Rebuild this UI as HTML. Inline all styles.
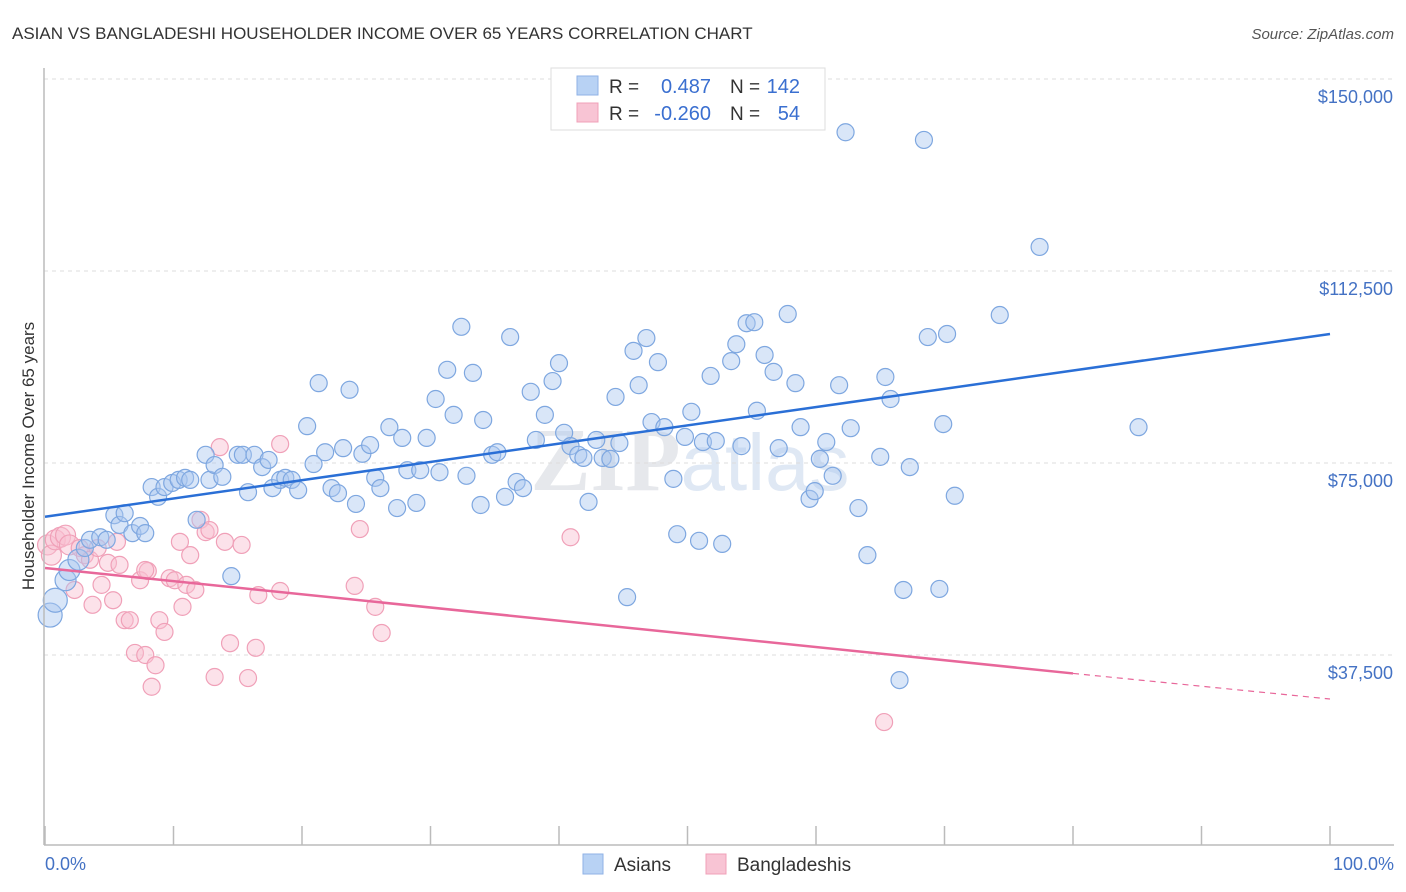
<!DOCTYPE html>
<html><head><meta charset="utf-8">
<style>
body{margin:0;background:#fff;font-family:"Liberation Sans",sans-serif;}
#wrap{position:relative;width:1406px;height:892px;overflow:hidden;}
</style></head>
<body>
<div id="wrap">
<svg id="svg" width="1406" height="892" xmlns="http://www.w3.org/2000/svg">
<text x="12" y="39" font-size="17" fill="#333">ASIAN VS BANGLADESHI HOUSEHOLDER INCOME OVER 65 YEARS CORRELATION CHART</text>
<text x="1394" y="39" font-size="15" fill="#555" font-style="italic" text-anchor="end">Source: ZipAtlas.com</text>
<text x="690" y="490" font-size="90" fill="#e6e8ec" font-weight="bold" text-anchor="middle" font-family="Liberation Serif,serif">ZIP<tspan fill="#dfe8f4" font-family="Liberation Sans,sans-serif" font-weight="normal" font-size="80">atlas</tspan></text>
<text transform="translate(34,456) rotate(-90)" font-size="17" fill="#333" text-anchor="middle">Householder Income Over 65 years</text>
<g id="grid"></g><g id="pts"></g><g id="trend"></g>
<line x1="44" y1="68" x2="44" y2="845" stroke="#bbb" stroke-width="1.5"/>
<line x1="44" y1="845" x2="1394" y2="845" stroke="#bbb" stroke-width="1.5"/>
<text x="45" y="870" font-size="18" fill="#4472c4">0.0%</text>
<text x="1394" y="870" font-size="18" fill="#4472c4" text-anchor="end">100.0%</text>
<g>
<rect x="551" y="68" width="274" height="62" fill="#fff" stroke="#ddd"/>
<rect x="577" y="76" width="21" height="19" fill="#b8d2f4" stroke="#8fb2e6"/>
<rect x="577" y="103" width="21" height="19" fill="#f8c4d4" stroke="#f0a0b8"/>
<text x="609" y="93" font-size="19" fill="#333">R =</text>
<text x="711" y="93" font-size="20" fill="#3a6fd0" text-anchor="end">0.487</text>
<text x="730" y="93" font-size="19" fill="#333">N =</text>
<text x="800" y="93" font-size="20" fill="#3a6fd0" text-anchor="end">142</text>
<text x="609" y="120" font-size="19" fill="#333">R =</text>
<text x="711" y="120" font-size="20" fill="#3a6fd0" text-anchor="end">-0.260</text>
<text x="730" y="120" font-size="19" fill="#333">N =</text>
<text x="800" y="120" font-size="20" fill="#3a6fd0" text-anchor="end">54</text>
</g>
<g>
<rect x="583" y="854" width="20" height="20" fill="#b8d2f4" stroke="#8fb2e6"/>
<text x="614" y="871" font-size="19" fill="#333">Asians</text>
<rect x="706" y="854" width="20" height="20" fill="#f8c4d4" stroke="#f0a0b8"/>
<text x="737" y="871" font-size="19" fill="#333">Bangladeshis</text>
</g>
</svg>
</div>
<script>
const yTickValues=[37500,75000,112500,150000];
const yTickLabels=["$37,500","$75,000","$112,500","$150,000"];
const xTickValues=[0,10,20,30,40,50,60,70,80,90,100];
const asianX=[0.4,0.8,1.6,1.9,2.6,3.1,3.5,4.3,4.8,5.4,5.8,6.2,6.8,7.4,7.8,8.3,8.8,9.3,9.9,10.4,10.9,11.3,11.8,12.5,12.8,13.2,13.8,14.5,15.0,15.4,15.8,16.3,16.9,17.4,17.7,18.3,18.7,19.2,19.7,20.4,20.9,21.3,21.8,22.3,22.8,23.2,23.7,24.2,24.7,25.3,25.7,26.1,26.8,27.4,27.8,28.2,28.9,29.2,29.7,30.4,30.7,31.3,31.8,32.4,32.8,33.3,33.9,34.1,34.8,35.2,35.8,36.2,36.7,37.2,37.8,38.2,38.9,39.5,40.0,40.4,40.9,41.5,41.9,42.3,42.9,43.4,44.0,44.4,44.7,45.3,45.8,46.2,46.8,47.2,47.7,48.2,48.9,49.2,49.8,50.3,50.9,51.2,51.8,52.2,52.7,53.4,53.8,54.2,54.6,55.2,55.4,56.0,56.7,57.1,57.8,58.4,58.8,59.5,59.9,60.3,60.8,61.3,61.8,62.3,62.7,63.3,64.0,65.0,65.4,65.8,66.8,67.3,68.4,68.7,69.6,69.9,70.2,70.8,74.3,77.4,85.1,66.5];
const asianY=[45.3,48.2,52.1,54.1,56.1,58.4,60.0,60.5,60.0,64.8,62.9,65.2,61.3,62.7,61.3,70.3,68.4,70.3,71.1,71.7,72.1,71.7,63.9,76.6,71.7,74.6,72.3,52.9,76.6,76.6,69.3,76.6,74.2,75.6,70.1,71.7,72.1,71.7,69.7,82.2,74.8,90.6,77.1,70.1,69.1,77.9,89.3,67.0,76.8,78.5,72.1,70.1,82.0,66.2,79.9,73.6,67.2,73.6,79.9,87.5,73.2,93.2,84.4,101.6,72.5,92.6,66.8,83.4,76.6,77.1,68.4,99.6,71.3,70.1,88.9,79.5,84.4,91.0,94.5,80.9,78.3,76.6,76.0,67.4,79.5,76.0,75.8,87.9,78.9,48.8,96.9,90.2,99.4,83.0,94.7,82.0,71.9,61.1,80.1,85.0,59.8,79.1,92.0,79.3,59.2,94.9,98.2,78.3,102.3,102.5,85.2,96.1,92.8,77.9,104.1,90.6,82.0,68.0,69.5,75.8,79.1,72.5,90.2,139.6,81.8,66.2,57.0,76.2,91.8,87.5,50.2,74.2,138.1,99.6,50.4,82.6,100.2,68.6,103.9,117.2,82.0,32.6];
const bangX=[0.2,0.5,0.8,1.2,1.6,1.9,2.3,2.7,3.1,3.5,3.7,4.1,4.4,4.9,5.3,5.6,5.8,6.2,6.6,7.0,7.4,7.8,8.0,8.3,8.6,8.9,9.3,9.7,10.1,10.5,10.7,11.0,11.3,11.7,12.1,12.5,12.8,13.2,13.6,14.0,14.4,15.3,15.8,16.4,16.6,18.3,18.3,24.1,24.5,25.7,26.2,40.9,65.3,7.8];
const bangY=[59.0,57.0,60.0,60.5,60.9,59.0,50.2,58.4,57.0,56.1,47.3,58.4,51.2,55.5,48.2,59.6,55.1,44.3,44.3,37.9,52.1,37.5,53.9,31.3,35.5,44.3,42.0,52.5,52.1,59.6,46.9,51.2,57.0,50.2,63.9,61.5,61.9,33.2,78.1,59.6,39.8,59.0,33.0,38.9,49.2,78.7,50.0,51.0,62.1,46.9,41.8,60.5,24.4,54.1];
const asianTrendX=[0,100];
const asianTrendY=[64.5,100.2];
const bangTrendX=[0,80,100];
const bangTrendY=[54.5,33.9,28.9];

const NS="http://www.w3.org/2000/svg";
const xs=p=>45+p/100*1285;
const ys=v=>463-(v-75000)/37500*192;
function mk(tag,attrs,parent){const e=document.createElementNS(NS,tag);for(const k in attrs)e.setAttribute(k,attrs[k]);parent.appendChild(e);return e;}
const grid=document.getElementById('grid'),pts=document.getElementById('pts'),trend=document.getElementById('trend'),svg=document.getElementById('svg');
yTickValues.forEach((v,i)=>{
  const l=mk('line',{x1:44,x2:1394,y1:ys(v),y2:ys(v),stroke:'#ddd','stroke-dasharray':'4,4'},grid);
  
  
  const t=mk('text',{x:1393,y:ys(v)+24,'font-size':18,fill:'#4472c4','text-anchor':'end'},svg);
  t.textContent=yTickLabels[i];
  
  
});
xTickValues.forEach(p=>{
  const l=mk('line',{x1:xs(p),x2:xs(p),y1:826,y2:845,stroke:'#bbb','stroke-width':1.5},svg);
  
  
});
bangX.forEach((p,i)=>{
  const c=mk('circle',{cx:xs(p),cy:ys(bangY[i]*1000),r:p<2?10:8.5,fill:'rgba(248,190,208,0.45)',stroke:'#f0a0b8','stroke-width':1.2},pts);
  
  
});
asianX.forEach((p,i)=>{
  const c=mk('circle',{cx:xs(p),cy:ys(asianY[i]*1000),r:p<1.5?12:(p<3?10.5:8.5),fill:'rgba(170,200,240,0.45)',stroke:'#7ea7e0','stroke-width':1.2},pts);
  
  
});
const bl=mk('line',{x1:xs(asianTrendX[0]),y1:ys(asianTrendY[0]*1000),x2:xs(asianTrendX[1]),y2:ys(asianTrendY[1]*1000),stroke:'#2a6fd6','stroke-width':2.5},trend);


const pl=mk('line',{x1:xs(bangTrendX[0]),y1:ys(bangTrendY[0]*1000),x2:xs(bangTrendX[1]),y2:ys(bangTrendY[1]*1000),stroke:'#e8679a','stroke-width':2.5},trend);


const pd=mk('line',{x1:xs(bangTrendX[1]),y1:ys(bangTrendY[1]*1000),x2:xs(bangTrendX[2]),y2:ys(bangTrendY[2]*1000),stroke:'#e8679a','stroke-width':1.2,'stroke-dasharray':'6,5'},trend);


</script>
</body></html>
